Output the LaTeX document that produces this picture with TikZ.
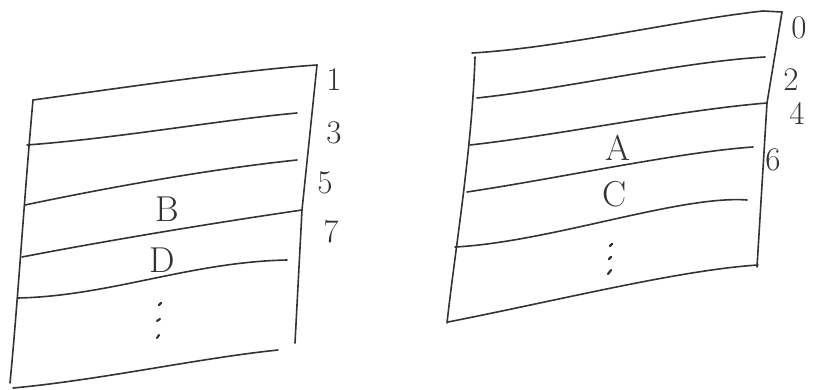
\documentclass[tikz,border=0pt]{standalone}
\begin{document}
\begin{tikzpicture}[x=1pt,y=-1pt,
  pen/.style={draw=black!80,line width=1.6pt,line cap=round,line join=round},
  dot/.style={draw=black!80,line width=2.2pt,line cap=round},
  lab/.style={text=black!80,font=\fontsize{36}{36}\selectfont,inner sep=0pt},
  num/.style={text=black!80,font=\fontsize{33}{33}\selectfont,inner sep=0pt}]
\useasboundingbox (0,0) rectangle (816,390);
% ---------- left sheet ----------
\draw[pen] (33,100) .. controls (120,88) and (230,72) .. (303,66) -- (317,65);
\draw[pen] (33,100) .. controls (24,200) and (18,300) .. (10,383);
\draw[pen] (317,65) -- (302,210) -- (295,343);
\draw[pen] (27,145) .. controls (120,138) and (220,120) .. (297,113);
\draw[pen] (25,205) .. controls (120,185) and (220,168) .. (297,160);
\draw[pen] (22,257) .. controls (110,240) and (220,222) .. (302,210);
\draw[pen] (18,298) .. controls (110,296) and (190,262) .. (287,260);
\draw[pen] (13,388) .. controls (100,380) and (200,358) .. (278,350);
\node[num] (n1) at (334,80) {1};
\node[num] (n3) at (334,133) {3};
\node[num] (n5) at (325,183) {5};
\node[num] (n7) at (331,232) {7};
\node[lab] (B) at (167,209) {B};
\node[lab] (D) at (162,260) {D};
\draw[dot] (159,305) -- (161,303);
\draw[dot] (157,321) -- (160,319);
\draw[dot] (157,338) -- (159,335);
% ---------- right sheet ----------
\draw[pen] (472,53) .. controls (560,48) and (680,20) .. (763,11) -- (782,12);
\draw[pen] (475,57) .. controls (472,150) and (455,250) .. (447,323);
\draw[pen] (782,12) -- (767,103) -- (757,267);
\draw[pen] (477,98) .. controls (570,88) and (680,62) .. (765,57);
\draw[pen] (470,145) .. controls (560,135) and (680,110) .. (767,103);
\draw[pen] (467,192) .. controls (560,178) and (680,152) .. (753,147);
\draw[pen] (455,247) .. controls (550,242) and (680,195) .. (747,200);
\draw[pen] (448,322) .. controls (560,300) and (680,270) .. (758,265);
\node[num] (n0) at (799,28) {0};
\node[num] (n2) at (791,80) {2};
\node[num] (n4) at (797,113) {4};
\node[num] (n6) at (773,160) {6};
\node[lab] (A) at (618,148) {A};
\node[lab] (C) at (615,194) {C};
\draw[dot] (610,246) -- (612,244);
\draw[dot] (609,259) -- (611,257);
\draw[dot] (608,274) -- (611,270);
\end{tikzpicture}
\end{document}
